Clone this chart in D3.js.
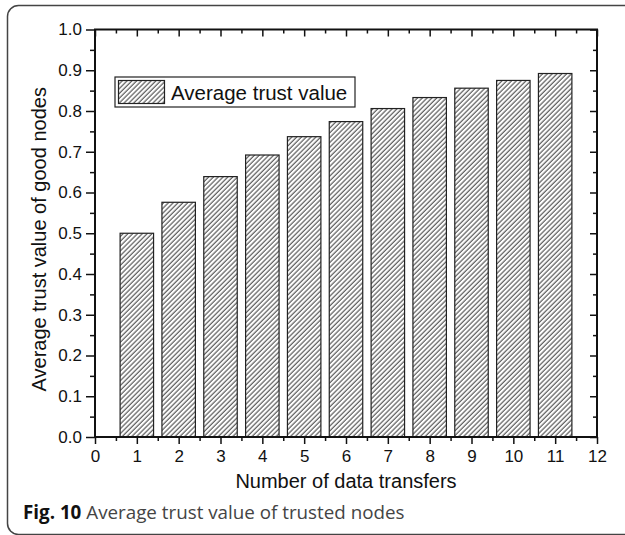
<!DOCTYPE html>
<html>
<head>
<meta charset="utf-8">
<script src="https://cdn.jsdelivr.net/npm/d3@7"></script>
<style>
  body { margin: 0; background: #fff; }
  svg { display: block; }
  text { font-family: "Liberation Sans", Arial, sans-serif; fill: #111; }
</style>
</head>
<body>
<svg id="chart" width="625" height="535"></svg>
<script>
const transfers = [1, 2, 3, 4, 5, 6, 7, 8, 9, 10, 11];
const trustValues = [0.5, 0.576, 0.639, 0.692, 0.737, 0.774, 0.806, 0.833, 0.856, 0.875, 0.892];
const xTicks = d3.range(0, 13);
const yTicks = d3.range(0, 1.01, 0.1);
const seriesName = "Average trust value";
const xTitle = "Number of data transfers";
const yTitle = "Average trust value of good nodes";
const captionBold = "Fig. 10";
const captionText = " Average trust value of trusted nodes";

const width = 625;
const height = 535;
const MARGIN = { LEFT: 95, RIGHT: 28, TOP: 29.5, BOTTOM: 98 };
const WIDTH = width - MARGIN.LEFT - MARGIN.RIGHT;
const HEIGHT = height - MARGIN.TOP - MARGIN.BOTTOM;

const svg = d3.select("#chart");

// hatch fill used by bars and legend swatch
const defs = svg.append("defs");
defs.append("pattern")
  .attr("id", "hatch")
  .attr("patternUnits", "userSpaceOnUse")
  .attr("width", 3.4)
  .attr("height", 3.4)
  .attr("patternTransform", "rotate(45)")
  .call((p) => {
    p.append("rect").attr("width", 3.4).attr("height", 3.4).attr("fill", "#fff");
    p.append("line")
      .attr("x1", 1).attr("y1", 0).attr("x2", 1).attr("y2", 3.4)
      .attr("stroke", "#222").attr("stroke-width", 0.9);
  });

// outer rounded frame (right side runs off the page)
svg.append("rect")
  .attr("x", 7.5).attr("y", 5.5)
  .attr("width", 627).attr("height", 529)
  .attr("rx", 11)
  .attr("fill", "none")
  .attr("stroke", "#444")
  .attr("stroke-width", 1.5);

const x = d3.scaleLinear().domain([0, 12]).range([0, WIDTH]);
const y = d3.scaleLinear().domain([0, 1]).range([HEIGHT, 0]);

const g = svg.append("g").attr("transform", `translate(${MARGIN.LEFT},${MARGIN.TOP})`);

// bars
const barW = x(0.8) - x(0);
g.append("g")
  .selectAll("rect")
  .data(transfers)
  .join("rect")
  .attr("x", (d) => x(d) - barW / 2)
  .attr("y", (d, i) => y(trustValues[i]))
  .attr("width", barW)
  .attr("height", (d, i) => y(0) - y(trustValues[i]))
  .attr("fill", "url(#hatch)")
  .attr("stroke", "#222")
  .attr("stroke-width", 1.2);

function styleAxis(sel) {
  sel.attr("font-family", null).attr("font-size", null);
  sel.select(".domain").remove();
  sel.selectAll("line").attr("stroke", "#111").attr("stroke-width", 1.5);
  sel.selectAll("text")
    .style("font-family", "'Liberation Sans', Arial, sans-serif")
    .style("font-size", "17px")
    .attr("fill", "#111");
}

const xMinor = d3.range(0.5, 12, 1);
const yMinor = d3.range(0.05, 1, 0.1);

// bottom axis: outward ticks
g.append("g").attr("transform", `translate(0,${HEIGHT})`)
  .call(d3.axisBottom(x).tickValues(xMinor).tickSize(4).tickFormat(""))
  .call(styleAxis);
g.append("g").attr("transform", `translate(0,${HEIGHT})`)
  .call(d3.axisBottom(x).tickValues(xTicks).tickSize(7).tickPadding(6).tickFormat(d3.format("d")))
  .call(styleAxis);

// top axis: inward ticks
g.append("g")
  .call(d3.axisTop(x).tickValues(xMinor).tickSize(-4).tickFormat(""))
  .call(styleAxis);
g.append("g")
  .call(d3.axisTop(x).tickValues(xTicks).tickSize(-7).tickFormat(""))
  .call(styleAxis);

// left axis: outward ticks
g.append("g")
  .call(d3.axisLeft(y).tickValues(yMinor).tickSize(5).tickFormat(""))
  .call(styleAxis);
g.append("g")
  .call(d3.axisLeft(y).tickValues(yTicks).tickSize(9).tickPadding(4).tickFormat(d3.format(".1f")))
  .call(styleAxis);

// right axis: inward ticks
g.append("g").attr("transform", `translate(${WIDTH},0)`)
  .call(d3.axisRight(y).tickValues(yMinor).tickSize(-4).tickFormat(""))
  .call(styleAxis);
g.append("g").attr("transform", `translate(${WIDTH},0)`)
  .call(d3.axisRight(y).tickValues(yTicks).tickSize(-7).tickFormat(""))
  .call(styleAxis);

// plot frame
g.append("rect")
  .attr("width", WIDTH).attr("height", HEIGHT)
  .attr("fill", "none")
  .attr("stroke", "#111")
  .attr("stroke-width", 2);

// axis titles
g.append("text")
  .attr("x", WIDTH / 2)
  .attr("y", HEIGHT + 51)
  .attr("text-anchor", "middle")
  .style("font-size", "20px")
  .text(xTitle);

g.append("text")
  .attr("transform", `translate(${-49},${HEIGHT / 2 + 6}) rotate(-90)`)
  .attr("text-anchor", "middle")
  .style("font-size", "20px")
  .text(yTitle);

// legend
const legend = svg.append("g").attr("transform", "translate(115,77)");
legend.append("rect")
  .attr("width", 240).attr("height", 30)
  .attr("fill", "#fff").attr("stroke", "#222").attr("stroke-width", 1.2);
legend.append("rect")
  .attr("x", 3.5).attr("y", 3.5)
  .attr("width", 46).attr("height", 23)
  .attr("fill", "url(#hatch)").attr("stroke", "#222").attr("stroke-width", 1.2);
legend.append("text")
  .attr("x", 56).attr("y", 22.5)
  .style("font-size", "20.5px")
  .text(seriesName);

// caption
const caption = svg.append("text")
  .attr("x", 23).attr("y", 519)
  .style("font-family", "'Open Sans', 'Noto Sans', sans-serif")
  .style("font-size", "18.8px");
caption.append("tspan").style("font-weight", "bold").attr("fill", "#111").text(captionBold);
caption.append("tspan").attr("fill", "#444").text(captionText);
</script>
</body>
</html>
